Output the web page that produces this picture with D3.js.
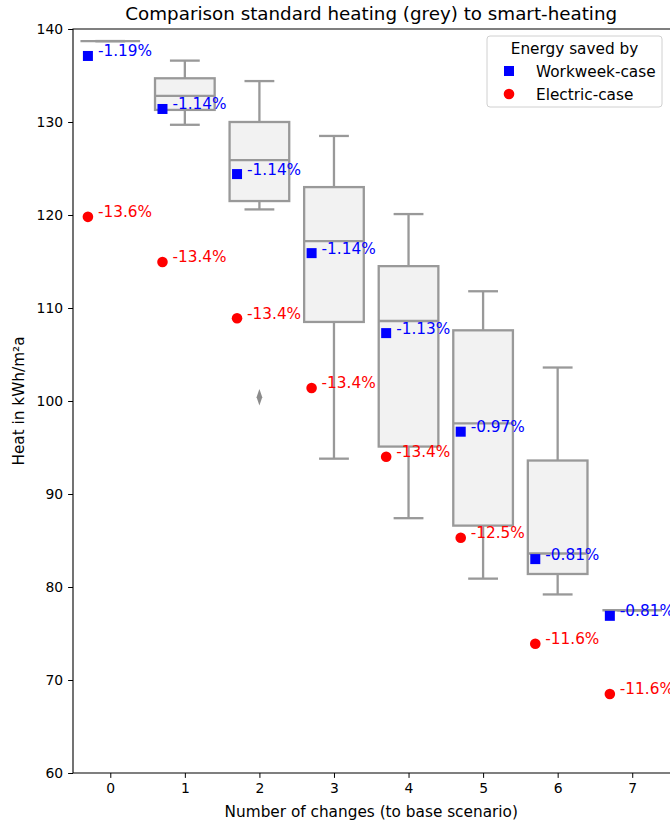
<!DOCTYPE html>
<html>
<head>
<meta charset="utf-8">
<script src="https://cdn.jsdelivr.net/npm/d3@7"></script>
<style>
  body { margin: 0; background: #fff; }
  text { font-family: "DejaVu Sans", sans-serif; }
</style>
</head>
<body>
<svg width="670" height="825"></svg>
<script>

// box statistics per number of changes (grey = standard heating)
var cats = [0, 1, 2, 3, 4, 5, 6, 7];
var whiskLo = [138.7, 129.7, 120.6, 93.8, 87.4, 80.9, 79.2, 77.5];
var q1      = [138.7, 131.3, 121.5, 108.5, 95.1, 86.6, 81.4, 77.5];
var median  = [138.7, 132.8, 125.9, 117.2, 108.6, 97.6, 83.6, 77.5];
var q3      = [138.7, 134.7, 130.0, 123.0, 114.5, 107.6, 93.6, 77.5];
var whiskHi = [138.7, 136.6, 134.4, 128.5, 120.1, 111.8, 103.6, 77.5];
var outliers = [{cat: 2, v: 100.4}];

// smart-heating cases
var workweek = [137.1, 131.4, 124.4, 115.9, 107.3, 96.7, 83.0, 76.9];
var workweekLbl = ["-1.19%", "-1.14%", "-1.14%", "-1.14%", "-1.13%", "-0.97%", "-0.81%", "-0.81%"];
var electric = [119.8, 114.95, 108.9, 101.4, 94.0, 85.3, 73.9, 68.5];
var electricLbl = ["-13.6%", "-13.4%", "-13.4%", "-13.4%", "-13.4%", "-12.5%", "-11.6%", "-11.6%"];

var yTicks = [60, 70, 80, 90, 100, 110, 120, 130, 140];

var svg = d3.select("svg"),
    margin = {top: 29, right: 0.5, bottom: 52, left: 73},
    W = 670 - margin.left - margin.right,
    H = 825 - margin.top - margin.bottom;

var x = d3.scaleLinear().domain([-0.5, 7.5]).range([0, W]),
    y = d3.scaleLinear().domain([60, 140]).range([H, 0]);

var g = svg.append("g").attr("transform", "translate(" + margin.left + "," + margin.top + ")");

var boxW = x(0.4) - x(0);   // half box width
var capW = boxW / 2;
var boxStroke = "#999999";
var LBL = "15.3px", TICK = "13.9px";

// boxes
var boxes = g.append("g").selectAll("g").data(cats).enter().append("g");

boxes.append("line")
    .attr("x1", function(d) { return x(d); }).attr("x2", function(d) { return x(d); })
    .attr("y1", function(d, i) { return y(whiskHi[i]); })
    .attr("y2", function(d, i) { return y(q3[i]); })
    .attr("stroke", boxStroke).attr("stroke-width", 2.3);
boxes.append("line")
    .attr("x1", function(d) { return x(d); }).attr("x2", function(d) { return x(d); })
    .attr("y1", function(d, i) { return y(q1[i]); })
    .attr("y2", function(d, i) { return y(whiskLo[i]); })
    .attr("stroke", boxStroke).attr("stroke-width", 2.3);
[whiskHi, whiskLo].forEach(function(arr) {
  boxes.append("line")
      .attr("x1", function(d) { return x(d) - capW; }).attr("x2", function(d) { return x(d) + capW; })
      .attr("y1", function(d, i) { return y(arr[i]); })
      .attr("y2", function(d, i) { return y(arr[i]); })
      .attr("stroke", boxStroke).attr("stroke-width", 2.3);
});
boxes.append("rect")
    .attr("x", function(d) { return x(d) - boxW; })
    .attr("width", 2 * boxW)
    .attr("y", function(d, i) { return y(q3[i]); })
    .attr("height", function(d, i) { return y(q1[i]) - y(q3[i]); })
    .attr("fill", "#f2f2f2").attr("stroke", boxStroke).attr("stroke-width", 2.3);
boxes.append("line")
    .attr("x1", function(d) { return x(d) - boxW; }).attr("x2", function(d) { return x(d) + boxW; })
    .attr("y1", function(d, i) { return y(median[i]); })
    .attr("y2", function(d, i) { return y(median[i]); })
    .attr("stroke", boxStroke).attr("stroke-width", 2.3);

g.append("g").selectAll("path").data(outliers).enter().append("path")
    .attr("d", d3.symbol().type(d3.symbolDiamond).size(50))
    .attr("transform", function(d) { return "translate(" + x(d.cat) + "," + y(d.v) + ") scale(0.75,1.25)"; })
    .attr("fill", "#8c8c8c");

// markers
var off = -0.3;
g.append("g").selectAll("rect").data(workweek).enter().append("rect")
    .attr("x", function(d, i) { return x(cats[i] + off) - 5; })
    .attr("y", function(d) { return y(d) - 5; })
    .attr("width", 10).attr("height", 10)
    .attr("fill", "blue");
g.append("g").selectAll("circle").data(electric).enter().append("circle")
    .attr("cx", function(d, i) { return x(cats[i] + off); })
    .attr("cy", function(d) { return y(d); })
    .attr("r", 5.3)
    .attr("fill", "red");

g.append("g").selectAll("text").data(workweek).enter().append("text")
    .attr("x", function(d, i) { return x(cats[i] + off) + 10; })
    .attr("y", function(d) { return y(d) + 0.5; })
    .style("font-size", LBL).attr("fill", "blue")
    .text(function(d, i) { return workweekLbl[i]; });
g.append("g").selectAll("text").data(electric).enter().append("text")
    .attr("x", function(d, i) { return x(cats[i] + off) + 10; })
    .attr("y", function(d) { return y(d) + 0.5; })
    .style("font-size", LBL).attr("fill", "red")
    .text(function(d, i) { return electricLbl[i]; });

// axes
var xAxis = g.append("g").attr("transform", "translate(0," + H + ")")
    .call(d3.axisBottom(x).tickValues(cats).tickSize(4.9).tickPadding(5).tickFormat(d3.format("d")));
var yAxis = g.append("g")
    .call(d3.axisLeft(y).tickValues(yTicks).tickSize(4.9).tickPadding(5));
[xAxis, yAxis].forEach(function(a) {
  a.select(".domain").remove();
  a.selectAll("text").style("font-size", TICK).style("font-family", "DejaVu Sans").attr("fill", "#000");
  a.selectAll("line").attr("stroke", "#000").attr("stroke-width", 1);
});

// spines (right one falls just outside the picture)
g.append("path")
    .attr("d", "M" + (W + 1) + ",0H0V" + H + "H" + (W + 1))
    .attr("fill", "none").attr("stroke", "#000").attr("stroke-width", 1.1);

// titles
svg.append("text")
    .attr("x", margin.left + W / 2).attr("y", 20)
    .attr("text-anchor", "middle").style("font-size", "18.3px")
    .text("Comparison standard heating (grey) to smart-heating");
svg.append("text")
    .attr("x", margin.left + W / 2).attr("y", 817)
    .attr("text-anchor", "middle").style("font-size", LBL)
    .text("Number of changes (to base scenario)");
svg.append("text")
    .attr("transform", "translate(24," + (margin.top + H / 2) + ") rotate(-90)")
    .attr("text-anchor", "middle").style("font-size", LBL)
    .text("Heat in kWh/m²a");

// legend
var lg = svg.append("g").attr("transform", "translate(487,36)");
lg.append("rect").attr("width", 175).attr("height", 71).attr("rx", 3)
    .attr("fill", "#fff").attr("fill-opacity", 0.8).attr("stroke", "#d0d0d0");
lg.append("text").attr("x", 87.5).attr("y", 18).attr("text-anchor", "middle")
    .style("font-size", LBL).text("Energy saved by");
lg.append("rect").attr("x", 17).attr("y", 30).attr("width", 10).attr("height", 10).attr("fill", "blue");
lg.append("text").attr("x", 49).attr("y", 41).style("font-size", LBL).text("Workweek-case");
lg.append("circle").attr("cx", 22).attr("cy", 58).attr("r", 5.3).attr("fill", "red");
lg.append("text").attr("x", 49).attr("y", 64).style("font-size", LBL).text("Electric-case");

</script>
</body>
</html>
